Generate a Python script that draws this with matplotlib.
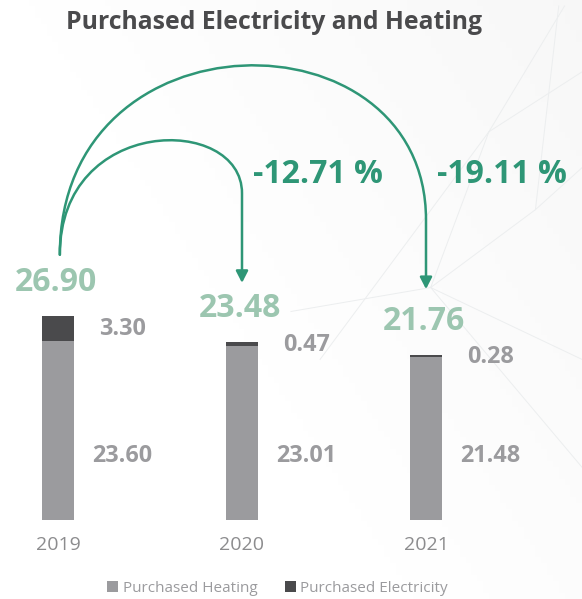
import numpy as np
import matplotlib.pyplot as plt
from matplotlib.path import Path
from matplotlib.patches import FancyArrowPatch

# ---- data ----
years = ["2019", "2020", "2021"]
heating = [23.60, 23.01, 21.48]
electricity = [3.30, 0.47, 0.28]
totals = [26.90, 23.48, 21.76]
changes = ["-12.71 %", "-19.11 %"]

# ---- colours ----
c_heat = "#9b9b9e"
c_elec = "#4a4a4c"
c_total = "#9cc6b0"
c_arrow = "#2e9676"
c_text = "#9b9b9e"

plt.rcParams['font.family'] = ['Open Sans', 'DejaVu Sans']

fig = plt.figure(figsize=(5.82, 5.99), dpi=100)
fig.patch.set_facecolor("#ffffff")

# faint decorative background
bg = fig.add_axes([0, 0, 1, 1], zorder=0)
bg.set_xlim(0, 1)
bg.set_ylim(0, 1)
bg.axis("off")
gx, gy = np.meshgrid(np.linspace(0, 1, 100), np.linspace(0, 1, 100))
shade = np.clip(0.6 * gx + 0.4 * gy - 0.35, 0, 1)
bg.imshow(1 - 0.05 * shade, cmap="gray", vmin=0, vmax=1, extent=(0, 1, 0, 1),
          origin="lower", aspect="auto")
bg_lines = [
    [(0.55, 0.40), (0.84, 0.78), (0.97, 0.99)],
    [(0.84, 0.78), (1.0, 0.88)],
    [(0.84, 0.78), (0.74, 0.52), (1.0, 0.40)],
    [(0.74, 0.52), (0.50, 0.48)],
    [(0.74, 0.52), (0.92, 0.65), (1.0, 0.72)],
    [(0.92, 0.65), (0.96, 0.99)],
    [(0.74, 0.52), (1.0, 0.22)],
]
for seg in bg_lines:
    xs, ys = zip(*seg)
    bg.plot(xs, ys, color="#eceeef", lw=0.7)

# main axes: bottom at y=520px, 7.58 px per unit
ax = fig.add_axes([0, 1 - 520 / 599, 1, 303.2 / 599], zorder=1)
ax.patch.set_alpha(0)
ax.set_xlim(-58 / 184, (582 - 58) / 184)
ax.set_ylim(0, 40)
ax.axis("off")

x = list(range(len(years)))
w = 0.17
ax.bar(x, heating, width=w, color=c_heat, label="Purchased Heating")
ax.bar(x, electricity, width=w, bottom=heating, color=c_elec, label="Purchased Electricity")

for i in x:
    ax.text(i + 0.35, 8.4, f"{heating[i]:.2f}", ha="center", va="center",
            fontsize=16.8, fontweight="bold", color=c_text)
    ax.text(i + 0.35, heating[i] + electricity[i] / 2 - 0.1, f"{electricity[i]:.2f}",
            ha="center", va="center", fontsize=16.8, fontweight="bold", color=c_text)
    ax.text(i - 0.01, totals[i] + 4.4, f"{totals[i]:.2f}", ha="center", va="center",
            fontsize=23, fontweight="bold", color=c_total)
    ax.text(i, -3.3, years[i], ha="center", va="center", fontsize=14, color="#8c8c8e")

# arrows from 2019 total to the later totals
start = (0.01, totals[0] + 8.1)
arcs = [
    (1, totals[1] + 7.8, 43.1, 53.5),
    (2, totals[2] + 8.7, 39.6, 67.5),
]
for (xi, y_end, y_turn, y_ctrl), label in zip(arcs, changes):
    verts = [start, (start[0], y_ctrl), (xi, y_ctrl), (xi, y_turn), (xi, y_end)]
    codes = [Path.MOVETO, Path.CURVE4, Path.CURVE4, Path.CURVE4, Path.LINETO]
    arrow = FancyArrowPatch(path=Path(verts, codes), arrowstyle="-|>,head_length=7,head_width=3.6",
                            color=c_arrow, lw=1.8, shrinkA=0, shrinkB=0, clip_on=False)
    ax.add_patch(arrow)
    ax.text(xi + 0.41, 45.6, label, ha="center", va="center", fontsize=23,
            fontweight="bold", color=c_arrow, clip_on=False)

fig.text(0.47, 0.963, "Purchased Electricity and Heating", ha="center", va="center",
         fontsize=17.8, fontweight="bold", color="#4a4a4c")

fig.legend(loc="center", bbox_to_anchor=(0.477, 0.018), ncol=2, frameon=False,
           fontsize=11, labelcolor="#9b9b9e", handlelength=0.7, handleheight=0.7,
           handletextpad=0.3, columnspacing=1.8)

fig.savefig("out.png", dpi=100)
